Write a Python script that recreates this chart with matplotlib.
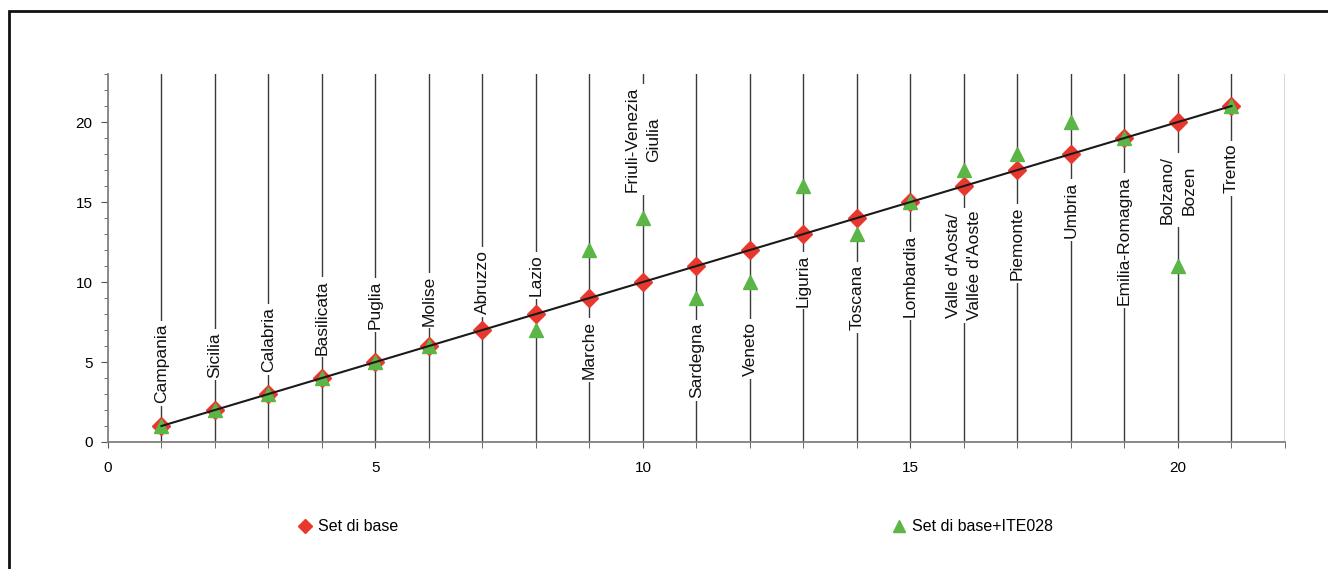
import matplotlib
matplotlib.use("Agg")
import matplotlib.pyplot as plt
from matplotlib.lines import Line2D
from matplotlib.patches import Rectangle
from matplotlib.ticker import MultipleLocator
import numpy as np

plt.rcParams["font.family"] = ["Liberation Sans", "DejaVu Sans"]

regions = [
    "Campania", "Sicilia", "Calabria", "Basilicata", "Puglia", "Molise",
    "Abruzzo", "Lazio", "Marche", "Friuli-Venezia\nGiulia", "Sardegna",
    "Veneto", "Liguria", "Toscana", "Lombardia", "Valle d'Aosta/\nVallée d'Aoste",
    "Piemonte", "Umbria", "Emilia-Romagna", "Bolzano/\nBozen", "Trento",
]
rank = list(range(1, 22))
base_set = [1, 2, 3, 4, 5, 6, 7, 8, 9, 10, 11, 12, 13, 14, 15, 16, 17, 18, 19, 20, 21]
base_ite028 = [1, 2, 3, 4, 5, 6, np.nan, 7, 12, 14, 9, 10, 16, 13, 15, 17, 18, 20, 19, 11, 21]
# vertical centre of each region label (label placement)
label_y = [4.9, 5.45, 6.4, 7.8, 8.55, 8.85, 10.0, 10.4, 5.75, 18.9, 5.1,
           5.8, 10.1, 9.05, 10.4, 11.05, 12.4, 14.5, 12.6, 15.75, 17.1]

RED = "#e8382d"
GREEN = "#5cb547"

fig = plt.figure(figsize=(13.28, 5.69), dpi=100)
ax = fig.add_axes([0.0813, 0.2232, 0.8863, 0.6467])

ax.set_xlim(0, 22)
ax.set_ylim(0, 23)

for x in range(1, 23):
    ax.axvline(x, color="#3a3a3a", lw=1, zorder=1)

ax.plot(rank, base_set, ls="none", marker="D", ms=9, color=RED, zorder=3)
ax.plot(rank, base_ite028, ls="none", marker="^", ms=10, color=GREEN, zorder=4)
ax.plot([rank[0], rank[-1]], [base_set[0], base_set[-1]], color="#1a1a1a", lw=1.5, zorder=5)

for x, y, name in zip(rank, label_y, regions):
    ax.text(x, y, name, rotation=90, ha="center", va="center", multialignment="center",
            fontsize=12.5, color="#111111", zorder=2, linespacing=1.55,
            bbox=dict(facecolor="white", edgecolor="none", pad=2))

for side in ("top", "right"):
    ax.spines[side].set_visible(False)
for side in ("left", "bottom"):
    ax.spines[side].set_color("#808080")
    ax.spines[side].set_linewidth(1.3)

ax.xaxis.set_major_locator(MultipleLocator(5))
ax.xaxis.set_minor_locator(MultipleLocator(1))
ax.yaxis.set_major_locator(MultipleLocator(5))
ax.yaxis.set_minor_locator(MultipleLocator(1))
ax.tick_params(axis="x", which="both", direction="out", length=4, color="#555555",
               labelsize=11, pad=10)
ax.tick_params(axis="y", which="major", direction="out", length=5, color="#555555",
               labelsize=11, pad=6)
ax.tick_params(axis="y", which="minor", direction="out", length=3, color="#555555")

h1 = Line2D([], [], ls="none", marker="D", ms=7, color=RED)
h2 = Line2D([], [], ls="none", marker="^", ms=8, color=GREEN)
fig.legend([h1], ["Set di base"], loc="center left", bbox_to_anchor=(0.218, 0.074),
           frameon=False, fontsize=11.5, handletextpad=0.3, borderpad=0, handlelength=1)
fig.legend([h2], ["Set di base+ITE028"], loc="center left", bbox_to_anchor=(0.665, 0.074),
           frameon=False, fontsize=11.5, handletextpad=0.3, borderpad=0, handlelength=1)

fig.add_artist(Rectangle((0.0068, -0.5), 2, 0.5 + 0.9807, transform=fig.transFigure,
                         fill=False, edgecolor="#111111", lw=2))

fig.savefig("out.png", dpi=100)
